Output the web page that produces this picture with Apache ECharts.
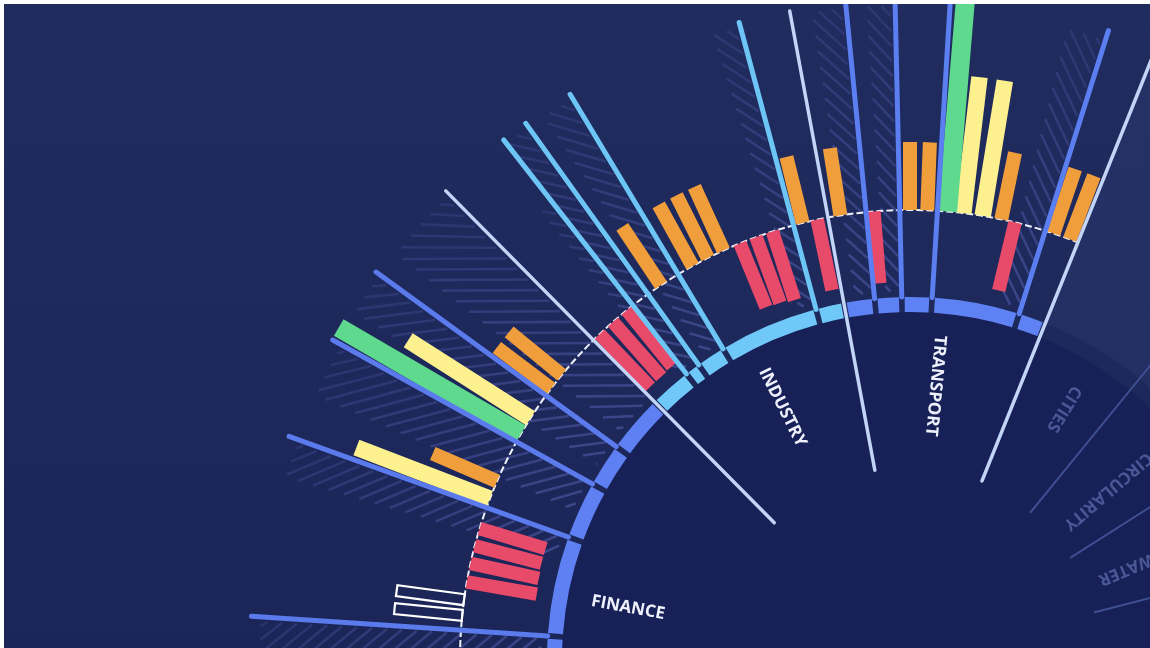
<!DOCTYPE html>
<html>
<head>
<meta charset="utf-8">
<script src="https://cdn.jsdelivr.net/npm/echarts@6/dist/echarts.min.js"></script>
<style>
html,body{margin:0;padding:0;background:#ffffff;width:1150px;height:648px;overflow:hidden}
#c{position:absolute;left:4px;top:4px;width:1146px;height:644px}
</style>
</head>
<body>
<div id="c"></div>
<script>
// ---------------- DATA ----------------
// spoke (indicator) angles, degrees counter-clockwise from 3 o'clock
const spokeAngles = [176.2, 160.2, 151.0, 144.0, 134.7, 128.0, 125.6, 121.0, 105.0, 100.5, 95.6, 91.3, 86.5, 72.5, 68.1];
// F finance, I industry, T transport, P pale divider
const spokeKinds  = ['F','F','F','F','P','I','I','I','I','P','T','T','T','T','P'];
// group of the ring segment lying clockwise of each spoke
const ringGroups  = ['F','F','F','F','I','I','I','I','I','T','T','T','T','T', null];
// hatched wedge on the counter-clockwise side of each spoke: angular span and reach
const hatchSpans  = [4.0, 3.5, 5.0, 4.0, 7.0, 1.5, 2.4, 3.0, 2.5, 0, 3.0, 2.5, 0, 3.5, 0];
const hatchReach  = [65, 65, 65, 65.5, 65.5, 58, 65.5, 65.5, 65.5, 0, 65.5, 65.5, 0, 65, 0];

// bars: [angle, length]  (inner red bars hang inward from the baseline, others grow outward)
const redBars    = [[163.0,6.9],[165.3,6.9],[167.6,7.0],[170.0,7.1],
                    [133.6,7.3],[131.3,7.3],[129.0,7.2],
                    [112.2,6.9],[110.0,7.0],[107.8,7.2],
                    [101.9,7.2],[94.6,7.2],[76.5,7.0]];
const orangeBars = [[156.6,7.0],[142.9,6.8],[140.7,6.8],[123.6,7.0],
                    [118.9,7.0],[116.7,7.0],[114.5,7.0],[103.8,6.8],[98.9,6.8],
                    [90.0,6.8],[87.8,6.8],[78.3,6.8],[71.4,6.8],[69.2,6.8]];
const yellowBars = [[159.0,14.3],[147.5,14.5],[83.2,13.7],[80.7,13.7]];
const greenBars  = [[149.8,21.1],[85.2,21.5]];
const outlineBars= [[174.3,6.8],[172.3,6.8]];

// faded spokes of inactive groups
const fadedSpokes = [50.8, 32.5, 14.5];

// group labels
const labelNames  = ['FINANCE','INDUSTRY','TRANSPORT','CITIES','CIRCULARITY','WATER'];
const labelAngles = [169.5, 116.8, 84.7, 58.5, 40.5, 22.8];
const labelActive = [1, 1, 1, 0, 0, 0];
const labelStarts = [32.4, 32.6, 32.6, 32.0, 31.5, 26.4];

// ---------------- STYLE CONSTANTS ----------------
const BASE = 45, RING_IN = 34.8, RING_OUT = 36.3, SPOKE_END = 66, PALE_START = 19.3;
const SPOKE_COLORS = {F:'#5b7bec', I:'#6dc5f6', T:'#5b7ef0', P:'#c2d5f7'};
const RING_COLORS  = {F:'#5e80f2', I:'#70c8f8', T:'#5e82f3'};
const HATCH_COLOR = '#3c4789';

function rpx(api, v){ const o = api.coord([0,0]); const c = api.coord([v,0]); return Math.hypot(c[0]-o[0], c[1]-o[1]); }
function rad(d){ return d*Math.PI/180; }
function rectPoints(api, ang, r0, r1, w){
  const p0 = api.coord([r0, ang]), p1 = api.coord([r1, ang]);
  const dx = p1[0]-p0[0], dy = p1[1]-p0[1]; const L = Math.hypot(dx,dy)||1;
  const nx = -dy/L*w/2, ny = dx/L*w/2;
  return [[p0[0]+nx,p0[1]+ny],[p1[0]+nx,p1[1]+ny],[p1[0]-nx,p1[1]-ny],[p0[0]-nx,p0[1]-ny]];
}
function base(name, z, data, renderItem){
  return {type:'custom', name, coordinateSystem:'polar', z, data, renderItem,
          encode:{angle:0, radius:1}, silent:true, animation:false, clip:false};
}
function barSeries(name, data, color, width, inward, outline){
  return base(name, 5, data, function(params, api){
    const a = api.value(0), len = api.value(1);
    const r0 = BASE, r1 = inward ? BASE - len : BASE + len;
    const pts = rectPoints(api, a, r0, r1, width);
    return {type:'polygon', shape:{points:pts},
      style: outline ? {fill:'none', stroke:color, lineWidth:2.2} : {fill:color}};
  });
}

// ring segments derived from consecutive spokes
const ringSegments = [];
ringSegments.push([spokeAngles[0], 200, 'F']);
for (let i = 0; i < spokeAngles.length-1; i++){
  if (ringGroups[i]) ringSegments.push([spokeAngles[i+1], spokeAngles[i], ringGroups[i]]);
}

const chart = echarts.init(document.getElementById('c'), null, {renderer:'canvas'});
const option = {
  animation:false,
  backgroundColor:{type:'linear', x:0, y:0, x2:0, y2:1,
    colorStops:[{offset:0,color:'#202b5e'},{offset:1,color:'#1b2558'}]},
  polar:{center:[906,656], radius:[0,1200]},
  angleAxis:{type:'value', min:0, max:360, startAngle:0, clockwise:false, show:false,
             axisLine:{show:false}, splitLine:{show:false}, axisLabel:{show:false}, axisTick:{show:false}},
  radiusAxis:{type:'value', min:0, max:120, show:false,
             axisLine:{show:false}, splitLine:{show:false}, axisLabel:{show:false}, axisTick:{show:false}},
  series:[
    // inner disc + faded overlay of inactive groups
    base('disc', 1, [[0,0]], function(params, api){
      const o = api.coord([0,0]);
      return {type:'group', children:[
        {type:'circle', shape:{cx:o[0], cy:o[1], r:rpx(api, RING_IN)}, style:{fill:'#172057'}},
        {type:'sector', shape:{cx:o[0], cy:o[1], r0:rpx(api, RING_OUT), r:rpx(api, 120),
          startAngle:-rad(spokeAngles[spokeAngles.length-1]), endAngle:rad(40), clockwise:true},
          style:{fill:'rgba(130,145,215,0.07)'}}
      ]};
    }),
    // hatched wedges
    base('hatch', 2, spokeAngles.map((a,i)=>[a, hatchSpans[i], hatchReach[i]]), function(params, api){
      const a = api.value(0), span = api.value(1), reach = api.value(2);
      const children = [];
      if (!span) return {type:'group', children};
      const rin = RING_OUT + 0.6;
      const cot = 1/Math.tan(rad(40));
      const aS = a + 0.4, aE = a + span;
      for (let rs = rin - 16; rs < reach; rs += 1.5){
        const dr = rs * rad(aE - aS) * cot;
        let t0 = 0, t1 = 1;
        if (rs < rin) t0 = (rin - rs)/dr;
        if (rs + dr > reach) t1 = (reach - rs)/dr;
        if (t0 >= t1) continue;
        const q0 = api.coord([rs + t0*dr, aS + t0*(aE-aS)]);
        const q1 = api.coord([rs + t1*dr, aS + t1*(aE-aS)]);
        const mid = rs + (t0+t1)/2*dr;
        const op = Math.max(0.35, 1 - 0.55*(mid - rin)/(reach - rin));
        children.push({type:'line', shape:{x1:q0[0],y1:q0[1],x2:q1[0],y2:q1[1]},
          style:{stroke:HATCH_COLOR, lineWidth:2.6, opacity:op}});
      }
      return {type:'group', children};
    }),
    // ring
    base('ring', 3, ringSegments.map(s=>[s[0], s[1], s[2]]), function(params, api){
      const a1 = api.value(0) + 0.45, a2 = api.value(1) - 0.45;
      const g = ringSegments[params.dataIndex][2];
      const o = api.coord([0,0]);
      return {type:'sector', shape:{cx:o[0], cy:o[1], r0:rpx(api, RING_IN), r:rpx(api, RING_OUT),
        startAngle:-rad(a2), endAngle:-rad(a1), clockwise:true}, style:{fill:RING_COLORS[g]}};
    }),
    // dashed baseline circle
    base('baseline', 4, [[0,0]], function(params, api){
      const o = api.coord([0,0]);
      return {type:'arc', shape:{cx:o[0], cy:o[1], r:rpx(api, BASE),
        startAngle:-rad(200), endAngle:-rad(spokeAngles[spokeAngles.length-1]), clockwise:true},
        style:{fill:'none', stroke:'#eef0fa', lineWidth:2, lineDash:[7,3]}};
    }),
    barSeries('red', redBars, '#e84a69', 13.5, true, false),
    barSeries('orange', orangeBars, '#f09d3b', 14, false, false),
    barSeries('yellow', yellowBars, '#fcf08f', 16.5, false, false),
    barSeries('green', greenBars, '#5fd98e', 19, false, false),
    barSeries('outline', outlineBars, '#ffffff', 11, false, true),
    // spokes
    base('spokes', 6, spokeAngles.map((a,i)=>[a, i]), function(params, api){
      const a = api.value(0), kind = spokeKinds[params.dataIndex];
      const r0 = kind === 'P' ? PALE_START : RING_OUT;
      const p0 = api.coord([r0, a]), p1 = api.coord([SPOKE_END, a]);
      return {type:'line', shape:{x1:p0[0],y1:p0[1],x2:p1[0],y2:p1[1]},
        style:{stroke:SPOKE_COLORS[kind], lineWidth: kind==='P' ? 3.5 : 5, lineCap:'round'}};
    }),
    // faded spokes
    base('faded', 6, fadedSpokes.map(a=>[a, 0]), function(params, api){
      const a = api.value(0);
      const p0 = api.coord([19.0, a]), p1 = api.coord([80, a]);
      return {type:'line', shape:{x1:p0[0],y1:p0[1],x2:p1[0],y2:p1[1]},
        style:{stroke:'#3f4f92', lineWidth:2}};
    }),
    // labels
    base('labels', 7, labelAngles.map((a,i)=>[a, labelStarts[i]]), function(params, api){
      const a = api.value(0), r = api.value(1), i = params.dataIndex;
      const p = api.coord([r, a]);
      let phi = a + 180; while (phi > 180) phi -= 360;
      return {type:'text', x:p[0], y:p[1], rotation:rad(phi),
        style:{text:labelNames[i], fill: labelActive[i] ? '#eef1fb' : '#4a5897',
          font: 'bold 17px "Open Sans", sans-serif', align:'left', verticalAlign:'middle',
          textAlign:'left', textVerticalAlign:'middle'}};
    })
  ]
};
chart.setOption(option);
</script>
</body>
</html>
